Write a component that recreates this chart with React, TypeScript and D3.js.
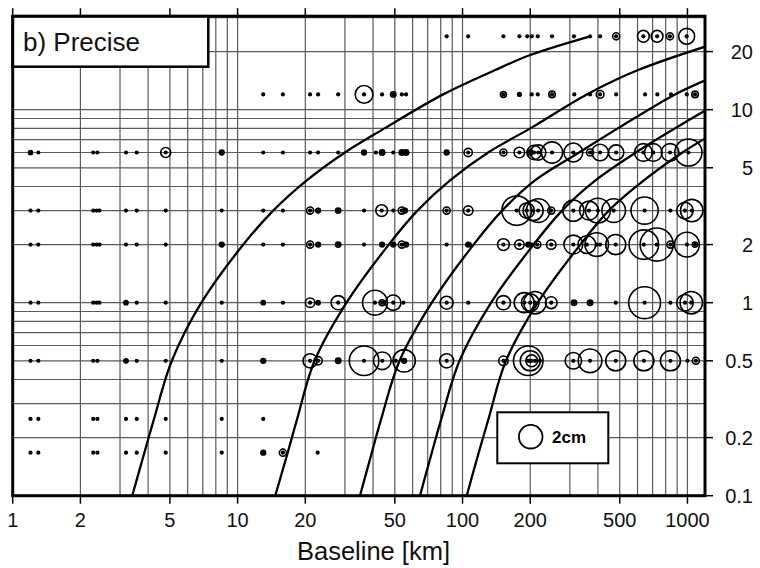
import React from "react";
import * as d3 from "d3";

// session length of each row of points, hours
const sessionHours = [24, 12, 6, 3, 2, 1, 0.5, 0.25, 0.167];

// points per row: [baseline km, error cm]
const row24h = [
  [85, 0], [106, 0], [152, 0], [179, 0], [194, 0], [203, 0], [216, 0], [250, 0],
  [313, 0], [369, 0], [409, 0], [482, 0.6], [637, 1.0], [733, 1.0], [836, 0.6], [992, 1.35],
];
const row12h = [
  [13, 0], [15.9, 0], [21, 0], [22.8, 0], [28, 0], [36.5, 1.5], [43.9, 0], [49.2, 0.45],
  [53.7, 0], [56.1, 0], [152, 0.5], [179, 0.3], [203, 0], [216, 0], [250, 0.55], [314, 0],
  [369, 0], [409, 0.65], [482, 0], [648, 0], [735, 0], [845, 0], [993, 0], [1081, 0.55],
];
const row6h = [
  [1.2, 0.35], [1.3, 0], [2.28, 0], [2.38, 0], [3.19, 0], [3.56, 0], [4.79, 0.85], [8.5, 0.4],
  [13, 0], [15.9, 0], [21, 0], [22.8, 0], [28, 0], [36.5, 0.4], [41.2, 0], [43.9, 0.45],
  [49.2, 0], [53.7, 0.45], [56.1, 0.45], [85, 0.4], [106, 0.7], [152, 0.6], [179, 0.9],
  [200, 0.45], [208, 1.2], [217, 1.3], [250, 1.8], [311, 1.6], [369, 0.6], [409, 1.4],
  [482, 1.3], [637, 1.5], [705, 1.5], [837, 1.5], [1010, 2.3],
];
const row3h = [
  [1.2, 0], [1.3, 0], [2.28, 0], [2.36, 0], [2.43, 0], [3.19, 0], [3.56, 0], [4.79, 0],
  [8.5, 0], [13, 0], [15.9, 0], [21, 0.6], [22.8, 0.4], [28, 0.45], [36.5, 0], [43.7, 1.0],
  [49.2, 0], [53.7, 0.6], [55.5, 0.4], [85, 0.6], [106, 0.8], [174, 2.5], [193, 1.3],
  [206, 1.7], [217, 2.0], [248, 0.6], [311, 1.8], [365, 1.6], [400, 2.1], [470, 2.0],
  [645, 2.3], [840, 0], [975, 1.4], [1045, 1.9],
];
const row2h = [
  [1.2, 0], [1.3, 0], [2.28, 0], [2.36, 0], [2.43, 0], [3.19, 0], [3.56, 0], [4.79, 0],
  [8.5, 0.4], [13, 0], [15.9, 0], [21, 0.6], [22.8, 0.4], [28, 0.45], [36.5, 0], [43.9, 0.4],
  [49.2, 0.4], [53.7, 0.6], [56.1, 0.4], [85, 0], [106, 0.4], [108, 0], [152, 1.0], [179, 0.8],
  [196, 0.4], [203, 0], [215, 0.6], [248, 0.8], [311, 1.6], [357, 1.5], [395, 2.0], [409, 0],
  [480, 1.7], [640, 2.5], [730, 2.8], [840, 0.6], [995, 2.1], [1080, 0.45],
];
const row1h = [
  [1.2, 0], [1.3, 0], [2.28, 0], [2.36, 0], [2.43, 0], [3.19, 0.35], [3.56, 0], [4.79, 0],
  [8.5, 0], [13, 0.35], [15.9, 0], [21, 0.8], [22.8, 0.35], [28, 1.2], [40.8, 2.1], [43.9, 0.5],
  [49.2, 1.3], [54.6, 0], [85, 1.1], [106, 0], [152, 1.2], [188, 1.7], [200, 1.5], [210, 1.9],
  [248, 1.0], [313, 0.45], [369, 0.45], [480, 0], [645, 2.7], [840, 0], [975, 1.4], [1040, 1.9],
];
const row30m = [
  [1.2, 0], [1.3, 0], [2.28, 0], [2.38, 0], [3.19, 0.35], [3.56, 0], [4.79, 0], [8.5, 0],
  [13, 0.4], [21, 1.2], [22.8, 0.7], [28, 0.45], [36.5, 2.5], [44, 1.5], [50.5, 0], [55, 1.9],
  [55, 0.4], [85, 1.2], [152, 0.8], [196, 2.5], [200, 1.7], [203, 1.0], [210, 0], [221, 0],
  [311, 1.4], [369, 2.0], [480, 1.7], [640, 1.7], [840, 1.7], [1000, 0], [1090, 0.6],
];
const row15m = [
  [1.2, 0], [1.3, 0], [2.28, 0], [2.38, 0], [3.19, 0], [3.56, 0], [4.79, 0], [8.5, 0], [13, 0],
];
const row10m = [
  [1.2, 0], [1.3, 0], [2.28, 0], [2.38, 0], [3.19, 0], [3.56, 0], [4.79, 0], [8.5, 0],
  [13, 0.4], [15.9, 0.6], [22.7, 0],
];
const rows = [row24h, row12h, row6h, row3h, row2h, row1h, row30m, row15m, row10m];

// curves: [baseline km, hours]
const curve1 = [
  [3.4, 0.1], [3.85, 0.167], [4.25, 0.25], [5.1, 0.5], [6.9, 1], [10.6, 2], [14.4, 3], [20.3, 4.3],
  [30, 6], [45, 8], [82, 12], [139, 16], [200, 19.2], [369, 24],
];
const curve2 = [
  [14.7, 0.1], [16.7, 0.167], [18.4, 0.25], [22, 0.5], [30.5, 1], [47, 2], [63, 3], [88, 4.3],
  [130, 6], [200, 8], [357, 12], [600, 16], [1197, 21.2],
];
const curve3 = [
  [35, 0.1], [39.5, 0.167], [43.5, 0.25], [52.5, 0.5], [73, 1], [112, 2], [150, 3], [210, 4.3],
  [330, 6], [490, 8], [880, 12], [1200, 14.2],
];
const curve4 = [
  [64.7, 0.1], [73, 0.167], [80.5, 0.25], [97, 0.5], [134, 1], [207, 2], [277, 3], [390, 4.3],
  [590, 6], [880, 8], [1200, 9.9],
];
const curve5 = [
  [104.4, 0.1], [118, 0.167], [130.5, 0.25], [156, 0.5], [216, 1], [334, 2], [447, 3], [640, 4.3],
  [950, 6], [1200, 7.1],
];
const curves = [curve1, curve2, curve3, curve4, curve5];

const xTicks = [1, 2, 5, 10, 20, 50, 100, 200, 500, 1000];
const yTicks = [0.1, 0.2, 0.5, 1, 2, 5, 10, 20];

const W = 760;
const H = 568;
const FONT = "'Liberation Sans', Arial, Helvetica, sans-serif";

export default function App() {
  const left = 12.7, right = 705, top = 16.2, bottom = 495.7;
  const x = d3.scaleLog().domain([1, 1197]).range([left, right]);
  const y = d3.scaleLog().domain([0.1, 30.5]).range([bottom, top]);
  const rScale = d3.scaleLinear().domain([0, 2]).range([0, 11.8]);

  // log grid lines 2..9 in every decade
  const xGrid: number[] = [];
  [1, 10, 100, 1000].forEach(d => d3.range(1, 10).forEach(m => {
    const v = m * d;
    if (v > 1 && v < 1197) xGrid.push(v);
  }));
  const yGrid: number[] = [];
  [0.1, 1, 10].forEach(d => d3.range(1, 10).forEach(m => {
    const v = m * d;
    if (v > 0.1 && v < 30.5) yGrid.push(v);
  }));

  const line = d3.line<number[]>()
    .x(d => x(d[0]))
    .y(d => y(d[1]))
    .curve(d3.curveCatmullRom.alpha(0.5));

  return (
    <svg width={W} height={H} style={{ position: "absolute", left: 0, top: 0, background: "#fff" }}
      fontFamily={FONT}>
      <defs>
        <clipPath id="plot">
          <rect x={left} y={top} width={right - left} height={bottom - top} />
        </clipPath>
      </defs>
      <rect width={W} height={H} fill="#fff" />

      <g stroke="#5a5a5a" strokeWidth={1.2}>
        {xGrid.map(v => <line key={"gx" + v} x1={x(v)} x2={x(v)} y1={top} y2={bottom} />)}
        {yGrid.map(v => <line key={"gy" + v} x1={left} x2={right} y1={y(v)} y2={y(v)} />)}
      </g>

      <g clipPath="url(#plot)" fill="none" stroke="#000" strokeWidth={2.3}>
        {curves.map((c, i) => <path key={"c" + i} d={line(c) || ""} />)}
      </g>

      <g clipPath="url(#plot)">
        {rows.map((row, i) => row.map((p, j) => (
          <g key={`p${i}-${j}`} transform={`translate(${x(p[0])},${y(sessionHours[i])})`}>
            {p[1] > 0 && <circle r={rScale(p[1])} fill="none" stroke="#000" strokeWidth={1.6} />}
            <circle r={2.1} fill="#000" />
          </g>
        )))}
      </g>

      {/* panel label */}
      <rect x={left} y={top} width={208.3 - left} height={66.7 - top} fill="#fff" stroke="#000" strokeWidth={2.5} />
      <text x={23} y={50.5} fontSize={26} fill="#111">b) Precise</text>

      {/* legend */}
      <rect x={497.3} y={412.3} width={111} height={51} fill="#fff" stroke="#000" strokeWidth={2} />
      <circle cx={530.7} cy={436.7} r={rScale(2)} fill="none" stroke="#000" strokeWidth={1.8} />
      <text x={552} y={442.5} fontSize={17} fontWeight="bold" fill="#000">2cm</text>

      {/* frame */}
      <rect x={left} y={top} width={right - left} height={bottom - top} fill="none" stroke="#000" strokeWidth={3} />

      <g stroke="#000" strokeWidth={1.5}>
        {xTicks.map(v => (
          <g key={"tx" + v}>
            <line x1={x(v)} x2={x(v)} y1={bottom} y2={bottom + 8} />
            <line x1={x(v)} x2={x(v)} y1={top} y2={top - 8} />
          </g>
        ))}
        {yTicks.map(v => <line key={"ty" + v} x1={right} x2={right + 8} y1={y(v)} y2={y(v)} />)}
      </g>

      <g fontSize={20} fill="#111">
        {xTicks.map(v => (
          <text key={"lx" + v} x={x(v)} y={527} textAnchor="middle">{v}</text>
        ))}
        {yTicks.map(v => (
          <text key={"ly" + v} x={753} y={y(v) + 7} textAnchor="end">{v}</text>
        ))}
      </g>

      <text x={373.5} y={560} fontSize={25.5} textAnchor="middle" fill="#111">Baseline [km]</text>
    </svg>
  );
}
